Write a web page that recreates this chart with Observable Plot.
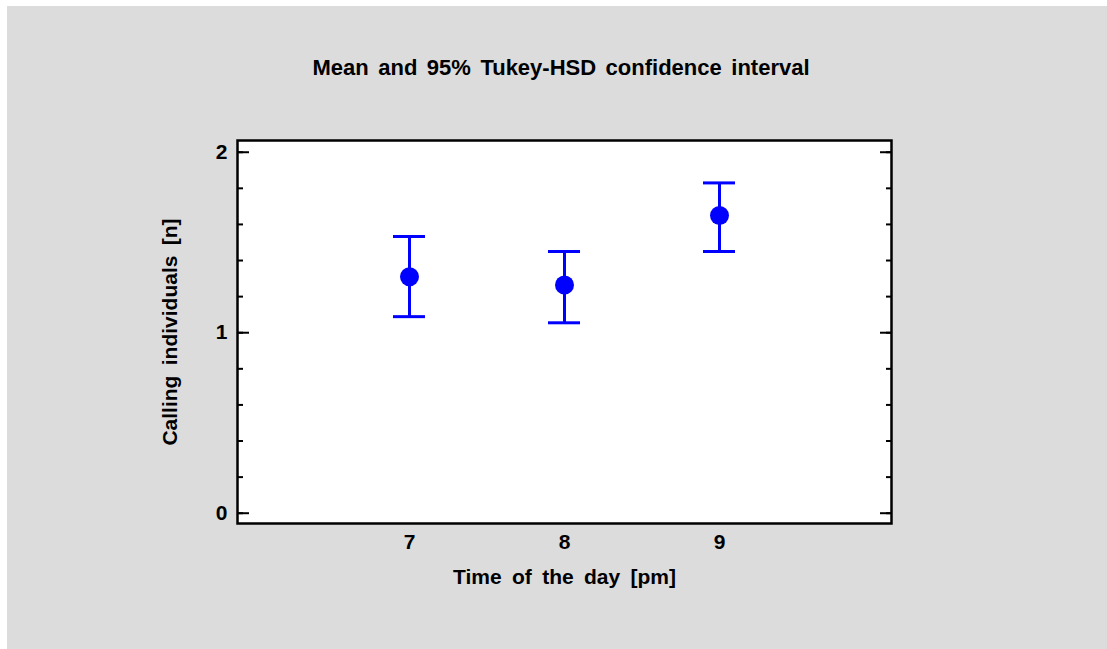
<!DOCTYPE html>
<html>
<head>
<meta charset="utf-8">
<script src="https://cdn.jsdelivr.net/npm/d3@7"></script>
<script src="https://cdn.jsdelivr.net/npm/@observablehq/plot@0.6"></script>
<style>
  html, body { margin: 0; padding: 0; background: #ffffff; }
  #panel { position: absolute; left: 7px; top: 6px; width: 1100px; height: 643px; background: #dcdcdc; overflow: hidden; }
  #title { position: absolute; left: 4px; width: 1100px; top: 51px; text-align: center;
           font-family: "Liberation Sans", Arial, sans-serif; font-weight: bold; font-size: 22px; line-height: 22px;
           letter-spacing: 0px; word-spacing: 3.4px; color: #000; }
  #chart { position: absolute; left: 0; top: 0; }
</style>
</head>
<body>
<div id="panel">
  <div id="title">Mean and 95% Tukey-HSD confidence interval</div>
  <div id="chart"></div>
</div>
<script>
const hours = [7, 8, 9];
const means = [1.31, 1.264, 1.649];
const lower = [1.089, 1.055, 1.45];
const upper = [1.533, 1.45, 1.83];
const yMajorTicks = [0, 1, 2];
const yMinorTicks = [0, 0.2, 0.4, 0.6, 0.8, 1, 1.2, 1.4, 1.6, 1.8, 2];

const data = hours.map((h, i) => ({hour: h, mean: means[i], lower: lower[i], upper: upper[i]}));
const blue = "#0000ff";

const chart = Plot.plot({
  width: 1100,
  height: 643,
  marginLeft: 230,
  marginRight: 216,
  marginTop: 134,
  marginBottom: 126,
  style: {fontFamily: "'Liberation Sans', Arial, sans-serif", fontSize: "21px", fontWeight: "bold", letterSpacing: "0px", wordSpacing: "4.5px", background: "transparent", color: "#000"},
  x: {type: "band", domain: hours, paddingInner: 0.794, paddingOuter: 1.0, align: 0.5},
  y: {domain: [-0.057, 2.065]},
  marks: [
    Plot.frame({fill: "white"}),
    Plot.axisX({tickSize: 0, tickPadding: 11, label: "Time of the day [pm]", labelAnchor: "center", labelArrow: "none", labelOffset: 60}),
    Plot.axisY({ticks: yMajorTicks, tickSize: 0, tickPadding: 10, tickFormat: d3.format("d"), label: "Calling individuals [n]", labelAnchor: "center", labelArrow: "none", labelOffset: 75}),
    Plot.axisY({anchor: "left", ticks: yMajorTicks, tickSize: -12, strokeWidth: 2, fill: "none", label: null}),
    Plot.axisY({anchor: "left", ticks: yMinorTicks, tickSize: -6, strokeWidth: 2, fill: "none", label: null}),
    Plot.axisY({anchor: "right", ticks: yMajorTicks, tickSize: -12, strokeWidth: 2, fill: "none", label: null}),
    Plot.axisY({anchor: "right", ticks: yMinorTicks, tickSize: -6, strokeWidth: 2, fill: "none", label: null}),
    Plot.frame({stroke: "black", strokeWidth: 2.5}),
    Plot.ruleX(data, {x: "hour", y1: "lower", y2: "upper", stroke: blue, strokeWidth: 3}),
    Plot.tickY(data, {x: "hour", y: "upper", stroke: blue, strokeWidth: 3}),
    Plot.tickY(data, {x: "hour", y: "lower", stroke: blue, strokeWidth: 3}),
    Plot.dot(data, {x: "hour", y: "mean", r: 9.5, fill: blue, stroke: "none"})
  ]
});
document.getElementById("chart").appendChild(chart);
</script>
</body>
</html>
